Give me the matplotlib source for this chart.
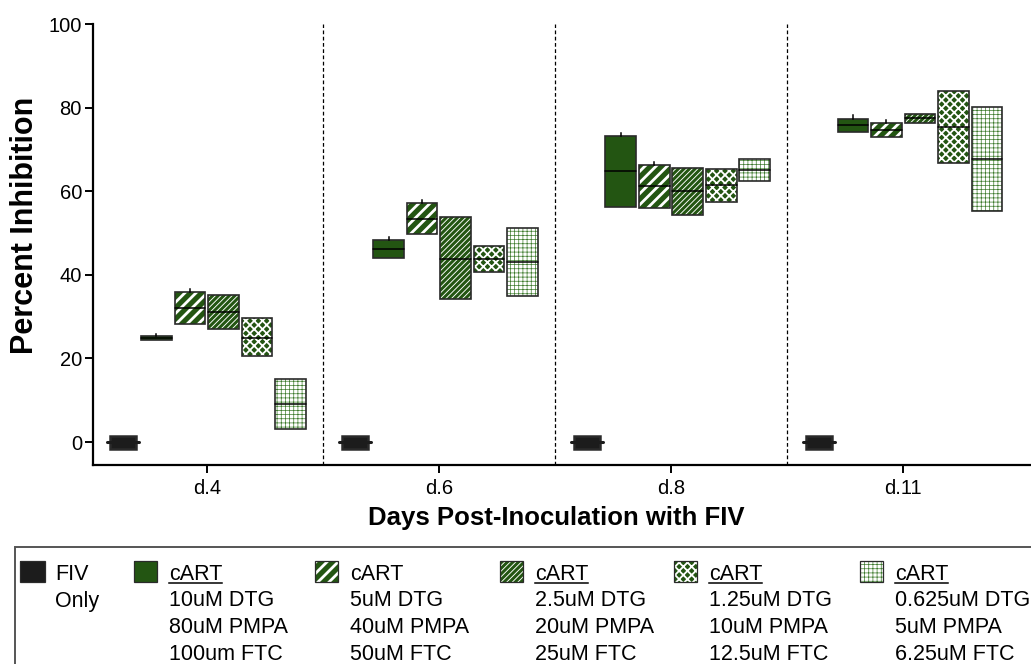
import matplotlib
matplotlib.use("Agg")
import matplotlib.pyplot as plt
from matplotlib.patches import Rectangle
from matplotlib.lines import Line2D

plt.rcParams["font.family"] = ["Liberation Sans", "DejaVu Sans"]

# ---- data -------------------------------------------------------------
days = ["d.4", "d.6", "d.8", "d.11"]

fiv_low = [-1.6, -1.6, -1.6, -1.6]
fiv_med = [0.0, 0.0, 0.0, 0.0]
fiv_high = [1.5, 1.5, 1.5, 1.5]

c10_low = [24.4, 44.0, 56.3, 74.2]
c10_med = [24.8, 46.1, 64.8, 75.8]
c10_high = [25.3, 48.3, 73.2, 77.3]
c10_cap = [25.9, 49.0, 73.9, 78.2]

c5_low = [28.3, 49.7, 56.1, 73.0]
c5_med = [32.0, 53.3, 61.2, 74.7]
c5_high = [35.8, 57.1, 66.3, 76.3]
c5_cap = [36.5, 57.8, 67.1, 77.1]

c25_low = [27.0, 34.3, 54.3, 76.4]
c25_med = [31.0, 43.9, 60.0, 77.4]
c25_high = [35.1, 53.8, 65.6, 78.4]

c125_low = [20.5, 40.6, 57.5, 66.7]
c125_med = [25.0, 43.8, 61.4, 75.3]
c125_high = [29.6, 47.0, 65.2, 83.9]

c0625_low = [3.1, 34.9, 62.5, 55.3]
c0625_med = [9.2, 43.1, 65.1, 67.8]
c0625_high = [15.1, 51.2, 67.6, 80.2]

legend_titles = ["FIV", "cART", "cART", "cART", "cART", "cART"]
legend_lines = [
    ["Only"],
    ["10uM DTG", "80uM PMPA", "100um FTC"],
    ["5uM DTG", "40uM PMPA", "50uM FTC"],
    ["2.5uM DTG", "20uM PMPA", "25uM FTC"],
    ["1.25uM DTG", "10uM PMPA", "12.5uM FTC"],
    ["0.625uM DTG", "5uM PMPA", "6.25uM FTC"],
]
legend_underline = [False, True, False, True, True, True]

# ---- styles -----------------------------------------------------------
GREEN = "#235512"
EDGE = "#2a2a2a"
styles = [
    dict(face="#1c1c1c", hatch=None, hcolor=None, hlw=0),
    dict(face=GREEN, hatch=None, hcolor=None, hlw=0),
    dict(face=GREEN, hatch="///", hcolor="white", hlw=2.0),
    dict(face=GREEN, hatch="//////", hcolor="white", hlw=0.65),
    dict(face=GREEN, hatch="xxxx", hcolor="white", hlw=1.3),
    dict(face="white", hatch="++++", hcolor="#3d7a2c", hlw=0.5),
]

series = [
    (fiv_low, fiv_med, fiv_high, None),
    (c10_low, c10_med, c10_high, c10_cap),
    (c5_low, c5_med, c5_high, c5_cap),
    (c25_low, c25_med, c25_high, None),
    (c125_low, c125_med, c125_high, None),
    (c0625_low, c0625_med, c0625_high, None),
]

W, H = 1031, 664
fig = plt.figure(figsize=(W / 100, H / 100), dpi=100)


def fx(px):
    return px / W


def fy(py):
    return 1 - py / H


def styled_rect(container, xy, w, h, st, transform, edge_lw=1.1):
    kw = dict(transform=transform, clip_on=False)
    if st["hatch"]:
        with plt.rc_context({"hatch.linewidth": st["hlw"]}):
            p = Rectangle(xy, w, h, facecolor=st["face"], edgecolor=st["hcolor"],
                          linewidth=0, hatch=st["hatch"], **kw)
        if hasattr(p, "set_hatch_linewidth"):
            p.set_hatch_linewidth(st["hlw"])
    else:
        p = Rectangle(xy, w, h, facecolor=st["face"], edgecolor="none",
                      linewidth=0, **kw)
    container.add_artist(p)
    o = Rectangle(xy, w, h, facecolor="none", edgecolor=EDGE,
                  linewidth=edge_lw, **kw)
    container.add_artist(o)


# ---- axes -------------------------------------------------------------
ax = fig.add_axes([fx(93), fy(465), 1 - fx(93), fy(24) - fy(465)])
ax.set_xlim(-0.49, 3.551)
ax.set_ylim(-5.5, 100)

pitch = 0.1443
box_w = 0.132
for k, (lo, md, hi, cap) in enumerate(series):
    st = styles[k]
    for g in range(len(days)):
        xc = g + (k - 2.5) * pitch
        w = box_w if k else 0.112
        styled_rect(ax, (xc - w / 2, lo[g]), w, hi[g] - lo[g], st, ax.transData,
                    edge_lw=1.8 if k == 0 else 1.2)
        mw = 0.138 if k == 0 else w
        ax.plot([xc - mw / 2, xc + mw / 2], [md[g], md[g]],
                color="black" if k else "#1c1c1c",
                lw=1.1 if k else 2.2, solid_capstyle="round", zorder=3)
        if cap is not None:
            ax.plot([xc, xc], [hi[g], cap[g]], color="black", lw=1.1, zorder=3)

for b in (0.5, 1.5, 2.5):
    ax.axvline(b, color="black", lw=0.9, dashes=(3, 2), zorder=1)

for s in ("top", "right"):
    ax.spines[s].set_visible(False)
for s in ("left", "bottom"):
    ax.spines[s].set_linewidth(1.6)

ax.set_yticks([0, 20, 40, 60, 80, 100])
ax.set_xticks(range(len(days)))
ax.set_xticklabels(days)
ax.tick_params(axis="both", labelsize=14.5, width=1.4, length=6, direction="out")
ax.tick_params(axis="x", pad=4)
ax.tick_params(axis="y", pad=2)

fig.text(fx(25), fy(225), "Percent Inhibition", rotation=90, fontsize=22,
         fontweight="bold", ha="center", va="center")
fig.text(fx(556), fy(518), "Days Post-Inoculation with FIV", fontsize=18.5,
         fontweight="bold", ha="center", va="center")

# ---- legend -----------------------------------------------------------
frame = Rectangle((fx(15), fy(680)), fx(1040) - fx(15), fy(547) - fy(680),
                  facecolor="white", edgecolor="#555555", linewidth=1.4,
                  transform=fig.transFigure, clip_on=False)
fig.add_artist(frame)

swatch_x = [20, 134, 315, 500, 674, 860]
text_x = [55, 169, 350, 535, 709, 895]
baselines = [580, 606.5, 633, 660]

titles = []
for k in range(len(legend_titles)):
    sw = 25 if k == 0 else 23
    styled_rect(fig, (fx(swatch_x[k]), fy(582)), fx(sw), fy(561) - fy(582),
                styles[k], fig.transFigure, edge_lw=0.9)
    t = fig.text(fx(text_x[k]), fy(baselines[0]), legend_titles[k],
                 fontsize=15.5, va="baseline", ha="left")
    titles.append(t)
    for j, line in enumerate(legend_lines[k]):
        fig.text(fx(text_x[k]), fy(baselines[j + 1]), line, fontsize=15.5,
                 va="baseline", ha="left")

fig.canvas.draw()
renderer = fig.canvas.get_renderer()
for k, t in enumerate(titles):
    if legend_underline[k]:
        bb = t.get_window_extent(renderer)
        y = fy(baselines[0] + 2.5)
        fig.add_artist(Line2D([bb.x0 / W, bb.x1 / W], [y, y], color="black",
                              lw=1.1, transform=fig.transFigure))

fig.savefig("out.png", dpi=100)
